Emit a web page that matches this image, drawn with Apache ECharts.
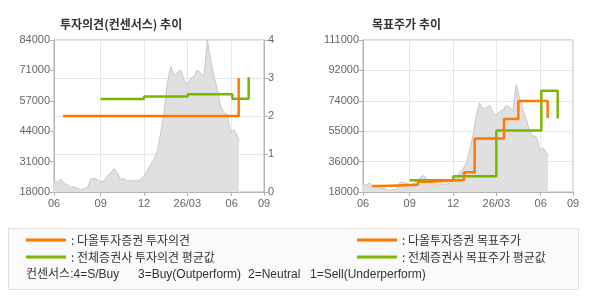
<!DOCTYPE html>
<html>
<head>
    <meta charset="utf-8">
    <title>투자의견 / 목표주가 추이</title>
    <style>
        html, body { margin: 0; padding: 0; background: #fff; }
        #chartBox { width: 590px; height: 300px; }
    </style>
</head>
<body>
    <div id="chartBox"></div>

    <script src="https://cdn.jsdelivr.net/npm/echarts@6/dist/echarts.min.js"></script>
    <script>
// x축: 주 단위 (06월 시작 = 0주)
var weekTicks = [0, 14, 27, 40, 53.3, 63];
var weekLabels = ['06', '09', '12', '26/03', '06', '09'];

// y축 눈금
var opinionTicks = [18000, 31200, 44400, 57600, 70800, 84000];
var opinionTickLabels = ['18000', '31000', '44000', '57000', '71000', '84000'];
var targetTicks = [18000, 36600, 55200, 73800, 92400, 111000];
var targetTickLabels = ['18000', '36000', '55000', '74000', '92000', '111000'];

// 주가 (주간)
var price = [
    22700, 22300, 23500, 21600, 21200, 19900, 20300, 19600, 18900, 19400,
    19700, 23500, 23900, 23500, 22300, 22800, 24900, 26400, 28100, 26400,
    23500, 23800, 22800, 23000, 22800, 22800, 23500, 24900, 27100, 30000,
    32100, 35700, 43600, 52300, 65300, 72500, 68900, 69600, 71000, 66700,
    64500, 67400, 68100, 71000, 69600, 68100, 84000, 75300, 68100, 62400,
    55200, 52300, 51600, 43600, 45100, 42200, 40000
];
var priceWeeks = price.map(function (v, i) { return i < 56 ? i : 55.5; });

// 투자의견 [주, 값]
var opinionDaol = [[2.7, 2], [55.4, 3]];
var opinionAvg = [[14, 2.45], [27, 2.515], [40.1, 2.57], [53.5, 2.455], [58.4, 3.02]];

// 목표주가 [주, 값]
var targetDaol = [[2.7, 21600], [6.3, 22500], [16.5, 24300], [19.5, 25300], [30.3, 30100],
    [33.5, 50700], [42.3, 62700], [46.6, 73700], [55.4, 63300]];
var targetAvg = [[14, 25200], [27.1, 27700], [40, 55600], [53.5, 80000], [58.4, 63000]];

var ORANGE = '#FF7800';
var GREEN = '#7AB800';
var LABEL_FONT = { color: '#666', fontSize: 11, fontFamily: 'Liberation Sans, Arial, sans-serif' };

var priceData = price.map(function (v, i) { return [priceWeeks[i], v]; });

function xAxisFor(gridIndex) {
    return {
        type: 'value', gridIndex: gridIndex, min: 0, max: 63,
        axisLine: { lineStyle: { color: '#B4B4B4' } },
        axisTick: { show: true, length: 4, customValues: weekTicks, lineStyle: { color: '#B4B4B4' } },
        axisLabel: Object.assign({
            customValues: weekTicks, margin: 6, showMinLabel: true, showMaxLabel: true,
            formatter: function (v) { return weekLabels[weekTicks.indexOf(v)]; }
        }, LABEL_FONT),
        splitLine: { show: true, lineStyle: { color: '#E6E6E6' } }
    };
}

function priceAxis(gridIndex, ticks, labels, split) {
    return {
        type: 'value', gridIndex: gridIndex, position: 'left',
        min: ticks[0], max: ticks[ticks.length - 1],
        axisLine: { show: true, lineStyle: { color: '#B4B4B4' } },
        axisTick: { show: true, length: 4, customValues: ticks, lineStyle: { color: '#B4B4B4' } },
        axisLabel: Object.assign({
            customValues: ticks, margin: 4,
            formatter: function (v) { return labels[ticks.indexOf(v)]; }
        }, LABEL_FONT),
        splitLine: { show: split, lineStyle: { color: '#E6E6E6' } }
    };
}

function priceSeries(idx) {
    return {
        type: 'line', xAxisIndex: idx, yAxisIndex: idx === 0 ? 0 : 2,
        data: priceData, symbol: 'none', silent: true,
        lineStyle: { color: '#C6C6C6', width: 1 },
        areaStyle: { color: '#E0E0E0', opacity: 1, origin: 'start' }
    };
}

function stepSeries(name, color, xIdx, yIdx, data) {
    return {
        name: name, type: 'line', step: 'end', color: color,
        xAxisIndex: xIdx, yAxisIndex: yIdx, data: data,
        symbol: 'none', lineStyle: { color: color, width: 2.5 }
    };
}

var chart = echarts.init(document.getElementById('chartBox'));

var legendText = { color: '#333', fontSize: 12, fontFamily: 'Noto Sans CJK KR, sans-serif', lineHeight: 12 };
var consensusFont = '12px Liberation Sans, Noto Sans CJK KR';

var option = {
    animation: false,
    title: [
        { text: '투자의견(컨센서스) 추이', left: 55, top: 13,
          textStyle: { fontSize: 12, fontWeight: 'bold', color: '#333', fontFamily: 'Noto Sans CJK KR, sans-serif' } },
        { text: '목표주가 추이', left: 367, top: 13,
          textStyle: { fontSize: 12, fontWeight: 'bold', color: '#333', fontFamily: 'Noto Sans CJK KR, sans-serif' } }
    ],
    grid: [
        { left: 54, top: 40, width: 210, height: 152, show: true, borderColor: '#B4B4B4', borderWidth: 1 },
        { left: 363, top: 40, width: 210, height: 152, show: true, borderColor: '#B4B4B4', borderWidth: 1 }
    ],
    xAxis: [xAxisFor(0), xAxisFor(1)],
    yAxis: [
        priceAxis(0, opinionTicks, opinionTickLabels, false),
        {
            type: 'value', gridIndex: 0, position: 'right', min: 0, max: 4, interval: 1,
            axisLine: { show: true, lineStyle: { color: '#B4B4B4' } },
            axisTick: { show: true, length: 4, lineStyle: { color: '#B4B4B4' } },
            axisLabel: Object.assign({ margin: 4 }, LABEL_FONT),
            splitLine: { show: true, lineStyle: { color: '#E6E6E6' } }
        },
        priceAxis(1, targetTicks, targetTickLabels, true)
    ],
    legend: [
        { data: ['다올투자증권 투자의견', '전체증권사 투자의견 평균값'], orient: 'vertical',
          left: 26, top: 234, padding: 0, itemWidth: 40, itemHeight: 3, itemGap: 5, icon: 'rect',
          selectedMode: false, formatter: ': {name}', textStyle: legendText, z: 10 },
        { data: ['다올투자증권 목표주가', '전체증권사 목표주가 평균값'], orient: 'vertical',
          left: 357, top: 234, padding: 0, itemWidth: 40, itemHeight: 3, itemGap: 5, icon: 'rect',
          selectedMode: false, formatter: ': {name}', textStyle: legendText, z: 10 }
    ],
    graphic: [
        { type: 'rect', z: -10, shape: { x: 8.5, y: 228.5, width: 570, height: 61 },
          style: { fill: '#FAFAFA', stroke: '#E0E0E0', lineWidth: 1 } },
        { type: 'text', x: 26, y: 275, style: { text: '컨센서스:4=S/Buy', fill: '#333', font: consensusFont, verticalAlign: 'middle' } },
        { type: 'text', x: 138, y: 275, style: { text: '3=Buy(Outperform)', fill: '#333', font: consensusFont, verticalAlign: 'middle' } },
        { type: 'text', x: 248, y: 275, style: { text: '2=Neutral', fill: '#333', font: consensusFont, verticalAlign: 'middle' } },
        { type: 'text', x: 310, y: 275, style: { text: '1=Sell(Underperform)', fill: '#333', font: consensusFont, verticalAlign: 'middle' } }
    ],
    series: [
        priceSeries(0),
        stepSeries('전체증권사 투자의견 평균값', GREEN, 0, 1, opinionAvg),
        stepSeries('다올투자증권 투자의견', ORANGE, 0, 1, opinionDaol),
        priceSeries(1),
        stepSeries('전체증권사 목표주가 평균값', GREEN, 1, 2, targetAvg),
        stepSeries('다올투자증권 목표주가', ORANGE, 1, 2, targetDaol)
    ]
};

chart.setOption(option);
window.addEventListener('resize', function () {
    chart.resize();
});
    </script>
</body>
</html>
